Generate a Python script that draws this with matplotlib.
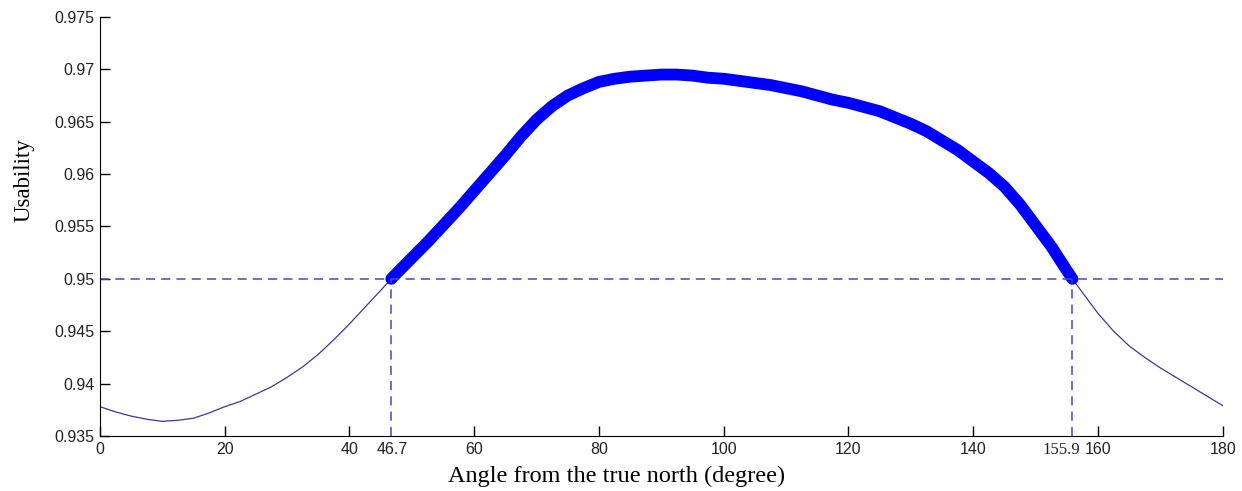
import numpy as np
import matplotlib.pyplot as plt
from matplotlib.transforms import offset_copy

# usability vs angle
angle = [0, 2.5, 5, 7.5, 10, 12.5, 15, 17.5, 20, 22.5, 25, 27.5, 30, 32.5, 35,
         37.5, 40, 42.5, 45, 46.7, 47.5, 50, 52.5, 55, 57.5, 60, 62.5, 65, 67.5,
         70, 72.5, 75, 77.5, 80, 82.5, 85, 87.5, 90, 92.5, 95, 97.5, 100, 102.5,
         105, 107.5, 110, 112.5, 115, 117.5, 120, 122.5, 125, 127.5, 130, 132.5,
         135, 137.5, 140, 142.5, 145, 147.5, 150, 152.5, 155, 155.9, 157.5, 160,
         162.5, 165, 167.5, 170, 172.5, 175, 177.5, 180]
usability = [0.9378, 0.9373, 0.9369, 0.9366, 0.9364, 0.9365, 0.9367, 0.9372,
             0.9378, 0.9383, 0.9390, 0.9397, 0.9406, 0.9416, 0.9428, 0.9442,
             0.9457, 0.9473, 0.9489, 0.9500, 0.9505, 0.9520, 0.9535, 0.9551,
             0.9567, 0.9584, 0.9601, 0.9618, 0.9636, 0.9652, 0.9665, 0.9675,
             0.9682, 0.9688, 0.9691, 0.9693, 0.9694, 0.9695, 0.9695, 0.9694,
             0.9692, 0.9691, 0.9689, 0.9687, 0.9685, 0.9682, 0.9679, 0.9675,
             0.9671, 0.9668, 0.9664, 0.9660, 0.9654, 0.9648, 0.9641, 0.9632,
             0.9623, 0.9612, 0.9601, 0.9588, 0.9571, 0.9551, 0.9531, 0.9508,
             0.9500, 0.9487, 0.9467, 0.9450, 0.9436, 0.9425, 0.9415, 0.9406,
             0.9397, 0.9388, 0.9379]

threshold = 0.95
cut_lo, cut_hi = 46.7, 155.9
xticks = [0, 20, 40, 60, 80, 100, 120, 140, 160, 180]
yticks = [0.935, 0.94, 0.945, 0.95, 0.955, 0.96, 0.965, 0.97, 0.975]

angle = np.array(angle)
usability = np.array(usability)
ok = (angle >= cut_lo) & (angle <= cut_hi)

fig = plt.figure(figsize=(12.42, 4.91), dpi=100)
ax = fig.add_axes([0.0805, 0.112, 0.904, 0.8535])

thin_col = '#3a36a8'
dash_col = '#4a48b8'

ax.plot(angle, usability, color=thin_col, lw=0.9)
ax.plot(angle[ok], usability[ok], color='#0000ff', lw=8.5, solid_capstyle='round',
        solid_joinstyle='round')

ax.plot([0, 180], [threshold, threshold], '--', color=dash_col, lw=1.1, dashes=(6, 4))
ax.plot([cut_lo, cut_lo], [0.935, threshold], '--', color=dash_col, lw=1.1, dashes=(6, 4))
ax.plot([cut_hi, cut_hi], [0.935, threshold], '--', color=dash_col, lw=1.1, dashes=(6, 4))

ax.set_xlim(0, 180)
ax.set_ylim(0.935, 0.975)
ax.set_xticks(xticks)
ax.set_yticks(yticks)
ax.set_yticklabels(['%g' % v for v in yticks])
ax.tick_params(direction='in', length=7, width=1, labelsize=11.5, colors='black',
               labelcolor='#222222', pad=4)
for lab in ax.get_xticklabels() + ax.get_yticklabels():
    lab.set_family('Liberation Sans')

# threshold crossing labels under the axis
ax.text(cut_lo, 0.935, '%g' % cut_lo, ha='center', va='top', fontsize=11.5,
        family='Liberation Sans', color='#222222',
        transform=offset_copy(ax.transData, fig=fig, x=1, y=-6, units='dots'))
ax.text(cut_hi, 0.935, '%g' % cut_hi, ha='center', va='top', fontsize=12,
        family='Liberation Serif', color='#222222',
        transform=offset_copy(ax.transData, fig=fig, x=-11, y=-6, units='dots'))

ax.spines['top'].set_visible(False)
ax.spines['right'].set_visible(False)

ax.set_xlabel('Angle from the true north (degree)', family='Liberation Serif',
              fontsize=17.5)
ax.xaxis.set_label_coords(0.46, -0.072)
ax.set_ylabel('Usability', family='Liberation Serif', fontsize=16.5)
ax.yaxis.set_label_coords(-0.058, 0.61)

fig.savefig('out.png', dpi=100)
